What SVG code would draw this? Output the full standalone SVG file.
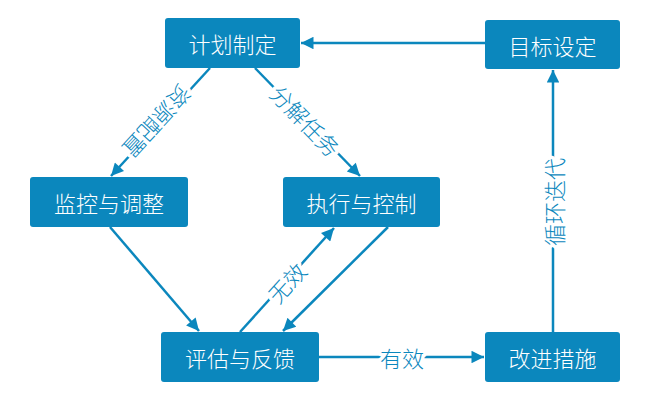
<svg xmlns="http://www.w3.org/2000/svg" width="650" height="400" viewBox="0 0 650 400">
<style>
.node rect{fill:#0b87bd;}
.node text{fill:#fff;font-family:"Noto Sans CJK SC","Noto Sans",sans-serif;font-size:22px;font-weight:300;text-anchor:middle;dominant-baseline:central;}
.edge{stroke:#0b87bd;stroke-width:2.5;fill:none;marker-end:url(#arr);}
.lbl{fill:#0b87bd;font-family:"Noto Sans CJK SC","Noto Sans",sans-serif;font-size:22px;font-weight:300;text-anchor:middle;dominant-baseline:central;stroke:#fff;stroke-width:7;paint-order:stroke;stroke-linejoin:round;}
</style>
<defs>
<marker id="arr" viewBox="0 0 10 10" refX="10" refY="5" markerWidth="7" markerHeight="5" markerUnits="strokeWidth" orient="auto">
<path d="M0,0 L10,5 L0,10 Z" fill="#0b87bd"/>
</marker>
</defs>
<rect width="650" height="400" fill="#fff"/>
<g id="connectors">
<line class="edge" x1="485" y1="43" x2="301" y2="43"/>
<line class="edge" x1="210" y1="68" x2="111" y2="176"/>
<line class="edge" x1="255" y1="68" x2="360" y2="176"/>
<line class="edge" x1="110" y1="227" x2="199" y2="331"/>
<line class="edge" x1="240" y1="332" x2="334" y2="228"/>
<line class="edge" x1="388" y1="227" x2="283" y2="331"/>
<line class="edge" x1="319" y1="357" x2="484" y2="357"/>
<line class="edge" x1="553" y1="332" x2="553" y2="70"/>
<text class="lbl" transform="translate(158,122) rotate(132.5)">资源配置</text>
<text class="lbl" transform="translate(306,120) rotate(46)">分解任务</text>
<text class="lbl" transform="translate(286,282) rotate(-48)">无效</text>
<text class="lbl" x="402" y="357">有效</text>
<text class="lbl" transform="translate(553,202) rotate(-90)">循环迭代</text>
</g>
<g id="n1" class="node"><rect x="165" y="18" width="135" height="50" rx="3"/><text x="232.5" y="43">计划制定</text></g>
<g id="n2" class="node"><rect x="485" y="20" width="135" height="49" rx="3"/><text x="552.5" y="44.5">目标设定</text></g>
<g id="n3" class="node"><rect x="30" y="177" width="158" height="50" rx="3"/><text x="109" y="202">监控与调整</text></g>
<g id="n4" class="node"><rect x="283" y="177" width="157" height="50" rx="3"/><text x="361.5" y="202">执行与控制</text></g>
<g id="n5" class="node"><rect x="161" y="332" width="158" height="50" rx="3"/><text x="240" y="357">评估与反馈</text></g>
<g id="n6" class="node"><rect x="485" y="332" width="135" height="50" rx="3"/><text x="552.5" y="357">改进措施</text></g>
</svg>
